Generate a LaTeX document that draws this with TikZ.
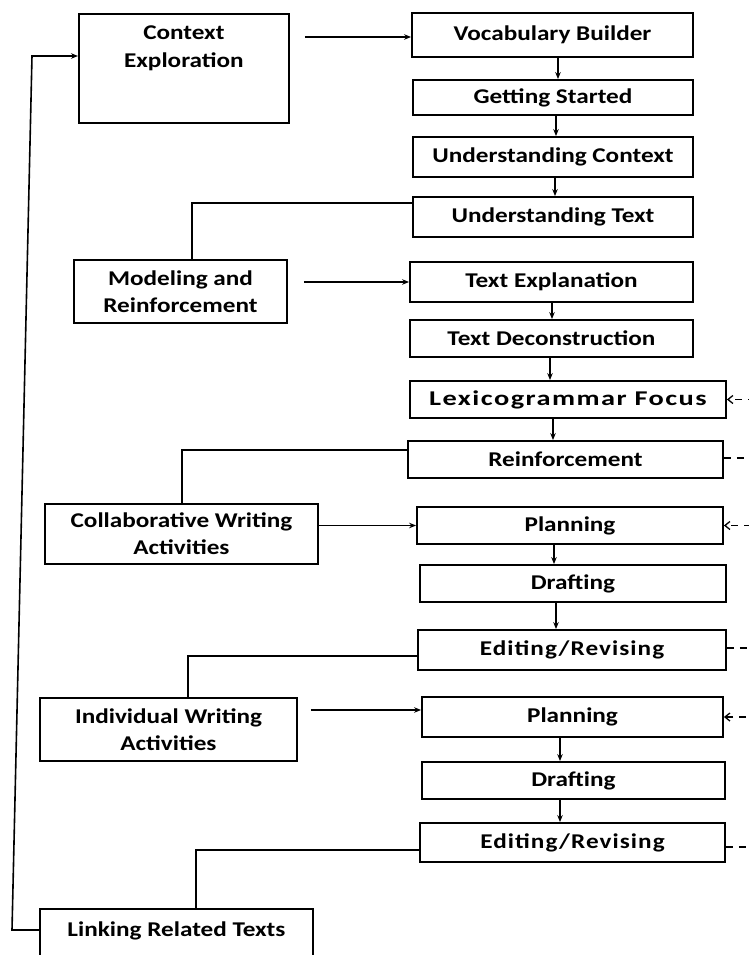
\documentclass[tikz,border=0pt]{standalone}
\usepackage{fontspec}
\setmainfont{Carlito}[FakeStretch=1.2]
\usetikzlibrary{arrows.meta}
\tikzset{
  box/.style={draw, line width=1.8pt, inner sep=2pt, align=center, font=\fontsize{21}{27}\selectfont\bfseries},
  wide/.style={font=\fontsize{21}{27}\selectfont\bfseries\addfontfeatures{FakeStretch=1.35,LetterSpace=7}},
  wider/.style={font=\fontsize{21}{27}\selectfont\bfseries\addfontfeatures{LetterSpace=5}},
  arr/.style={line width=1.6pt, -{Stealth[length=7pt,width=5.5pt]}},
  link/.style={line width=1.7pt},
  back/.style={line width=1.4pt, dash pattern=on 7pt off 6pt, -{Straight Barb[length=5pt,width=8pt,line width=1.3pt]}}
}
\begin{document}
\begin{tikzpicture}[x=1pt,y=-1pt]
\useasboundingbox (0,0) rectangle (748,955);
% right column
\node[box, minimum width=281pt, minimum height=44pt] (vb) at (552.5,35) {Vocabulary Builder};
\node[box, minimum width=280pt, minimum height=35pt] (gs) at (553,97.5) {Getting Started};
\node[box, minimum width=280pt, minimum height=40pt] (uc) at (553,157) {Understanding Context};
\node[box, minimum width=280pt, minimum height=40pt] (ut) at (553,217) {Understanding Text};
\node[box, minimum width=283pt, minimum height=40pt] (te) at (551.5,282) {Text Explanation};
\node[box, minimum width=283pt, minimum height=37pt] (td) at (551.5,338.5) {Text Deconstruction};
\node[box, wide, minimum width=316pt, minimum height=37pt] (lf) at (568,399.5) {Lexicogrammar Focus};
\node[box, minimum width=315pt, minimum height=37pt] (re) at (565.5,459.5) {Reinforcement};
\node[box, minimum width=306pt, minimum height=37pt] (pa) at (570,525.5) {Planning};
\node[box, minimum width=306pt, minimum height=37pt] (da) at (573,583.5) {Drafting};
\node[box, wider, minimum width=308pt, minimum height=40pt] (ea) at (572,650) {Editing/Revising};
\node[box, minimum width=301pt, minimum height=40pt] (pb) at (572.5,717) {Planning};
\node[box, minimum width=303pt, minimum height=37pt] (db) at (573.5,780.5) {Drafting};
\node[box, wider, minimum width=305pt, minimum height=39pt] (eb) at (572.5,842.5) {Editing/Revising};
% left column
\node[box, anchor=north west, inner xsep=5pt, inner ysep=12pt] (ce) at (78,13)
  {\parbox[t][85pt][t]{200pt}{\centering Context\\[1pt]Exploration}};
\node[box, minimum width=213pt, minimum height=63pt] (mr) at (180.5,291.5) {Modeling and\\Reinforcement};
\node[box, minimum width=273pt, minimum height=60pt] (cw) at (181.5,534) {Collaborative Writing\\Activities};
\node[box, minimum width=257pt, minimum height=63pt] (iw) at (168.5,729.5) {Individual Writing\\Activities};
\node[box, minimum width=273pt, minimum height=51pt, text depth=10pt] (lr) at (176.5,934.5) {Linking Related Texts};
% vertical arrows
\draw[arr] (vb.south -| 558,0) -- (gs.north -| 558,0);
\draw[arr] (gs.south -| 556,0) -- (uc.north -| 556,0);
\draw[arr] (uc.south -| 555,0) -- (ut.north -| 555,0);
\draw[arr] (te.south -| 552,0) -- (td.north -| 552,0);
\draw[arr] (td.south -| 550,0) -- (lf.north -| 550,0);
\draw[arr] (lf.south -| 553,0) -- (re.north -| 553,0);
\draw[arr] (pa.south -| 554,0) -- (da.north -| 554,0);
\draw[arr] (da.south -| 556,0) -- (ea.north -| 556,0);
\draw[arr] (pb.south -| 560,0) -- (db.north -| 560,0);
\draw[arr] (db.south -| 560,0) -- (eb.north -| 560,0);
% horizontal arrows from left boxes
\draw[arr] ([xshift=15pt,yshift=-2pt]ce.east |- vb.west) -- ([yshift=-2pt]vb.west);
\draw[arr] ([xshift=16pt]mr.east |- te.west) -- (te.west);
\draw[arr] (cw.east |- pa.west) -- (pa.west);
\draw[arr] ([xshift=13pt,yshift=7pt]iw.east |- pb.west) -- ([yshift=7pt]pb.west);
% connectors from left boxes up to right boxes
\draw[link] ([xshift=11.5pt]mr.north) |- ([yshift=14pt]ut.west);
\draw[link] ([xshift=0.5pt]cw.north) |- ([yshift=9.5pt]re.west);
\draw[link] ([xshift=19.5pt]iw.north) |- ([yshift=-6pt]ea.west);
\draw[link] ([xshift=19.5pt]lr.north) |- ([yshift=-7.5pt]eb.west);
% long loop back to Context Exploration
\coordinate (lb) at (12,930);
\coordinate (lt) at (32,56);
\draw[arr] ([yshift=4.5pt]lr.west) -- (lb) -- (lt) -- (lt -| ce.west);
% dashed feedback on right edge
\coordinate (r1) at (762,458);
\coordinate (r2) at (762,648);
\coordinate (r3) at (762,847);
\draw[back] ([yshift=1.5pt]re.east) -- (r1) -- (r1 |- lf.east) -- (lf.east);
\draw[back] ([yshift=2pt]ea.east) -- (r2) -- (r2 |- pa.east) -- (pa.east);
\draw[back] ([yshift=-4.5pt]eb.east) -- (r3) -- (r3 |- pb.east) -- (pb.east);
\end{tikzpicture}
\end{document}
